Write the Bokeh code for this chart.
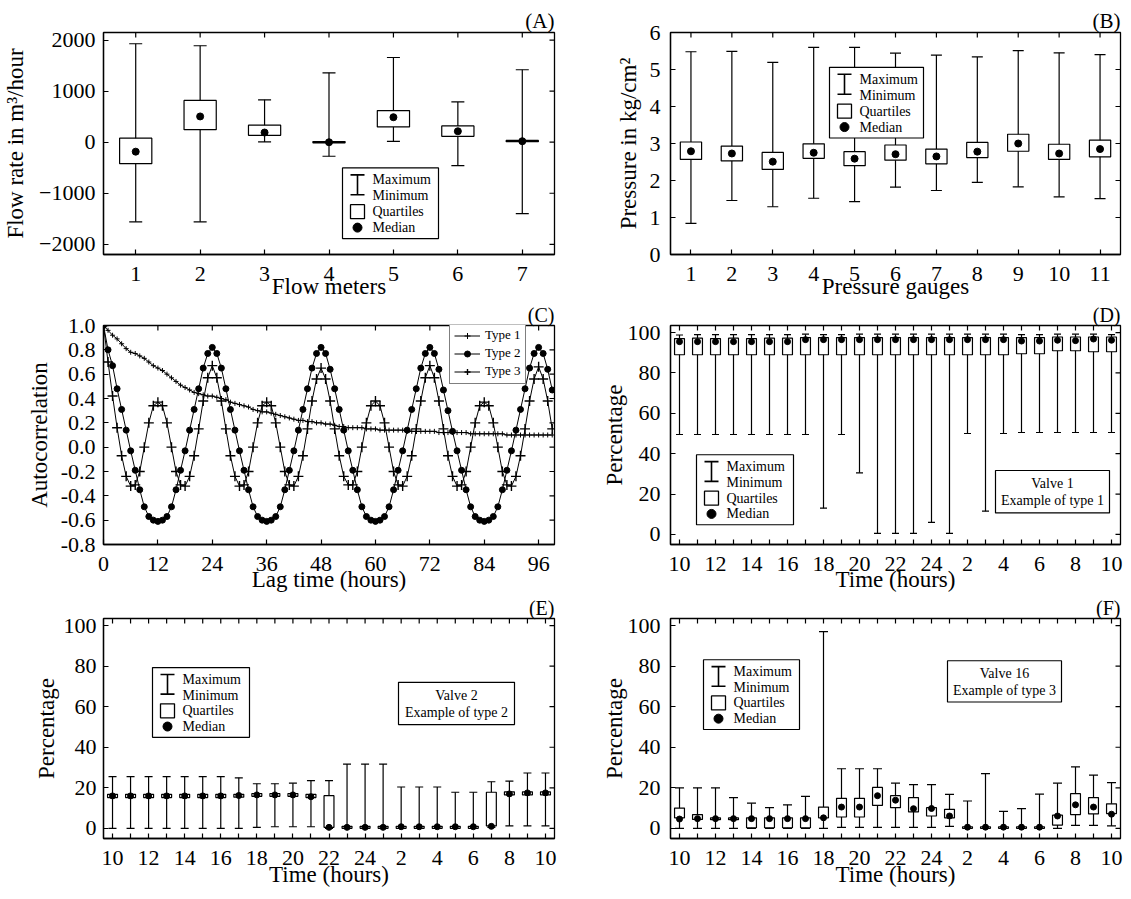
import math
from bokeh.plotting import figure
from bokeh.layouts import column, row
from bokeh.models import (ColumnDataSource, Whisker, TeeHead, FixedTicker,
                          NumeralTickFormatter, CustomJSTickFormatter, Legend, LegendItem)
from bokeh.core.properties import value
from bokeh.embed import file_html
from bokeh.resources import INLINE

FONT = "Liberation Serif"

# ---------------- data: panel A (flow meters)
flow_meters = [1, 2, 3, 4, 5, 6, 7]
flow_max = [1930, 1890, 830, 1360, 1660, 790, 1420]
flow_q3 = [80, 820, 335, 12, 620, 320, 35]
flow_med = [-185, 505, 190, 0, 490, 215, 20]
flow_q1 = [-420, 245, 135, -12, 300, 115, 10]
flow_min = [-1560, -1560, 5, -275, 15, -460, -1400]
flow_ticks = [-2000, -1000, 0, 1000, 2000]

# ---------------- data: panel B (pressure gauges)
gauges = [1, 2, 3, 4, 5, 6, 7, 8, 9, 10, 11]
pres_max = [5.48, 5.49, 5.19, 5.60, 5.60, 5.44, 5.39, 5.34, 5.51, 5.45, 5.40]
pres_q3 = [3.04, 2.93, 2.76, 2.99, 2.78, 2.96, 2.85, 3.03, 3.25, 2.98, 3.09]
pres_med = [2.79, 2.73, 2.51, 2.75, 2.59, 2.71, 2.65, 2.78, 3.00, 2.73, 2.85]
pres_q1 = [2.57, 2.53, 2.30, 2.60, 2.40, 2.55, 2.45, 2.62, 2.79, 2.57, 2.64]
pres_min = [0.84, 1.46, 1.29, 1.52, 1.43, 1.82, 1.73, 1.95, 1.83, 1.56, 1.51]
pres_ticks = [0, 1, 2, 3, 4, 5, 6]

# ---------------- data: panel C (autocorrelation, hourly lags)
lag_hours = list(range(100))
type1 = [1.00, 0.96, 0.92, 0.89, 0.85, 0.81, 0.78, 0.77, 0.75, 0.73,
         0.70, 0.67, 0.65, 0.63, 0.60, 0.57, 0.54, 0.51, 0.49, 0.47,
         0.45, 0.44, 0.43, 0.42, 0.42, 0.41, 0.40, 0.39, 0.37, 0.36,
         0.35, 0.34, 0.33, 0.31, 0.30, 0.29, 0.29, 0.28, 0.27, 0.26,
         0.25, 0.24, 0.23, 0.22, 0.22, 0.21, 0.21, 0.20, 0.20, 0.19,
         0.19, 0.18, 0.17, 0.17, 0.16, 0.16, 0.16, 0.16, 0.15, 0.15,
         0.15, 0.14, 0.14, 0.14, 0.14, 0.14, 0.14, 0.13, 0.13, 0.13,
         0.13, 0.13, 0.13, 0.13, 0.12, 0.12, 0.12, 0.12, 0.12, 0.12,
         0.12, 0.11, 0.11, 0.11, 0.11, 0.11, 0.11, 0.11, 0.11, 0.10,
         0.10, 0.10, 0.10, 0.10, 0.10, 0.10, 0.10, 0.10, 0.10, 0.10]
type2 = [1.00, 0.80, 0.67, 0.48, 0.31, 0.14, -0.03, -0.19, -0.35, -0.49, -0.57, -0.60,
         -0.61, -0.60, -0.57, -0.49, -0.35, -0.19, -0.03, 0.14, 0.31, 0.48, 0.65, 0.77,
         0.82, 0.77, 0.65, 0.48, 0.31, 0.14, -0.03, -0.19, -0.35, -0.49, -0.57, -0.60,
         -0.61, -0.60, -0.57, -0.49, -0.35, -0.19, -0.03, 0.14, 0.31, 0.48, 0.65, 0.77,
         0.82, 0.77, 0.64, 0.48, 0.31, 0.14, -0.03, -0.19, -0.35, -0.49, -0.57, -0.60,
         -0.61, -0.60, -0.57, -0.49, -0.35, -0.19, -0.03, 0.14, 0.31, 0.48, 0.65, 0.77,
         0.82, 0.77, 0.64, 0.47, 0.30, 0.13, -0.03, -0.19, -0.35, -0.49, -0.57, -0.60,
         -0.61, -0.60, -0.57, -0.49, -0.35, -0.19, -0.03, 0.14, 0.31, 0.48, 0.65, 0.77,
         0.82, 0.77, 0.64, 0.47]
type3 = [1.00, 0.70, 0.42, 0.16, -0.07, -0.24, -0.32, -0.31, -0.20, 0.00, 0.20, 0.34,
         0.37, 0.34, 0.20, 0.00, -0.20, -0.31, -0.32, -0.24, -0.07, 0.15, 0.38, 0.57,
         0.67, 0.57, 0.38, 0.15, -0.07, -0.24, -0.32, -0.31, -0.20, 0.00, 0.20, 0.34,
         0.37, 0.34, 0.20, 0.00, -0.20, -0.31, -0.32, -0.24, -0.07, 0.15, 0.38, 0.56,
         0.65, 0.56, 0.38, 0.15, -0.07, -0.24, -0.31, -0.31, -0.20, 0.00, 0.20, 0.34,
         0.38, 0.34, 0.20, 0.00, -0.20, -0.31, -0.32, -0.24, -0.07, 0.15, 0.38, 0.57,
         0.67, 0.57, 0.38, 0.15, -0.07, -0.24, -0.32, -0.31, -0.20, 0.00, 0.20, 0.34,
         0.37, 0.34, 0.20, 0.00, -0.20, -0.31, -0.32, -0.24, -0.07, 0.15, 0.38, 0.56,
         0.66, 0.56, 0.38, 0.15]
lag_ticks = [0, 12, 24, 36, 48, 60, 72, 84, 96]
acf_ticks = [-0.8, -0.6, -0.4, -0.2, 0.0, 0.2, 0.4, 0.6, 0.8, 1.0]

# ---------------- data: hourly valve opening panels D, E, F
hours = [10, 11, 12, 13, 14, 15, 16, 17, 18, 19, 20, 21, 22, 23, 24,
         1, 2, 3, 4, 5, 6, 7, 8, 9, 10]
pct_ticks = [0, 20, 40, 60, 80, 100]

v1_max = [98.8, 99.0, 99.0, 99.0, 99.0, 99.0, 99.0, 99.2, 99.0, 99.0, 99.2, 99.2, 99.2,
          99.2, 99.2, 99.2, 99.2, 99.2, 99.2, 99.0, 99.0, 99.2, 99.2, 99.2, 99.0]
v1_q3 = [97.0, 97.2, 97.0, 97.2, 97.0, 97.2, 97.2, 97.5, 97.5, 97.5, 97.5, 97.5, 97.5,
         97.5, 97.5, 97.5, 97.5, 97.5, 97.5, 97.5, 97.5, 97.8, 97.8, 97.8, 97.8]
v1_med = [95.5, 95.5, 95.5, 95.5, 95.5, 95.5, 95.5, 96.5, 96.5, 96.5, 96.5, 96.5, 96.5,
          96.5, 96.5, 96.5, 96.5, 96.5, 96.5, 95.8, 95.8, 96.2, 96.0, 96.8, 96.2]
v1_q1 = [89.0, 89.0, 89.0, 89.0, 89.0, 89.0, 89.0, 89.0, 89.0, 89.0, 89.0, 89.0, 89.0,
         89.0, 89.0, 89.0, 89.0, 89.0, 89.0, 89.5, 89.5, 91.0, 91.0, 90.5, 90.5]
v1_min = [49.5, 49.5, 49.5, 49.5, 49.5, 49.5, 49.5, 49.5, 13.0, 49.5, 30.5, 0.5, 0.5,
          0.5, 6.0, 0.5, 50.0, 11.5, 50.0, 50.5, 50.5, 50.5, 50.5, 50.5, 50.5]

v2_max = [25.5, 25.5, 25.5, 25.5, 25.5, 25.5, 25.5, 24.9, 22.0, 22.0, 22.3, 23.5, 23.5,
          31.7, 31.7, 31.7, 20.4, 20.4, 20.4, 17.8, 17.8, 23.0, 23.3, 27.3, 27.3]
v2_q3 = [16.8, 16.8, 16.8, 16.8, 16.8, 16.8, 16.8, 16.8, 17.2, 17.2, 17.2, 16.8, 16.1,
         1.0, 1.0, 1.0, 1.0, 1.0, 1.0, 1.0, 1.0, 17.8, 18.0, 18.0, 18.0]
v2_med = [16.0, 16.0, 16.0, 16.0, 16.0, 16.0, 16.0, 16.2, 16.5, 16.5, 16.5, 15.6, 0.5,
          0.5, 0.5, 0.5, 0.8, 0.8, 0.8, 0.8, 0.8, 1.0, 17.0, 17.5, 17.5]
v2_q1 = [15.2, 15.2, 15.2, 15.2, 15.2, 15.2, 15.2, 15.4, 15.8, 15.8, 15.8, 15.2, 0.5,
         0.0, 0.0, 0.0, 0.0, 0.0, 0.0, 0.0, 0.0, 1.2, 16.5, 16.5, 16.5]
v2_min = [0.0, 0.0, 0.0, 0.0, 0.0, 0.0, 0.0, 0.0, 0.5, 0.8, 0.8, 0.8, 0.0,
          0.0, 0.0, 0.0, 0.0, 0.0, 0.0, 0.0, 0.0, 0.5, 1.2, 1.2, 1.2]

v16_max = [20.0, 20.0, 20.0, 15.2, 12.4, 10.2, 11.6, 15.8, 97.0, 29.4, 29.4, 29.4, 22.3,
           21.6, 21.6, 16.8, 13.5, 27.0, 8.4, 9.7, 16.9, 22.3, 30.3, 26.3, 22.6]
v16_q3 = [10.0, 6.8, 5.2, 5.2, 5.2, 5.2, 5.2, 5.2, 10.5, 14.8, 14.8, 20.2, 16.1,
          15.2, 10.2, 9.4, 0.8, 0.8, 0.8, 0.8, 0.8, 6.5, 17.1, 15.2, 12.1]
v16_med = [4.6, 4.8, 4.8, 4.8, 4.8, 4.8, 4.8, 4.8, 5.2, 10.5, 10.5, 16.1, 13.9,
           9.7, 9.8, 6.1, 0.6, 0.6, 0.6, 0.6, 0.6, 6.1, 11.6, 10.5, 7.0]
v16_q1 = [5.2, 4.4, 4.3, 4.3, 0.3, 0.3, 0.3, 0.3, 5.2, 5.6, 5.6, 11.3, 10.2,
          8.1, 6.1, 5.2, 0.0, 0.0, 0.0, 0.0, 0.0, 1.6, 6.8, 7.1, 7.3]
v16_min = [0.0, 0.0, 0.0, 0.0, 0.0, 0.0, 0.0, 0.0, 0.0, 0.5, 0.5, 0.5, 0.5,
           0.5, 0.5, 1.0, 0.0, 0.0, 0.0, 0.0, 0.0, 0.0, 1.5, 1.5, 1.2]

# ---------------- layout constants (pixels)
LEFT = dict(bl=103, br=9, fw=451)
RIGHT = dict(bl=107, br=6, fw=450)
ROWS = [dict(bt=32, fh=223, bb=46, xs=12, xl=-10, tfs="21px"),
        dict(bt=23, fh=222, bb=48, xs=12, xl=-7, tfs="20px"),
        dict(bt=22, fh=224, bb=49, xs=12, xl=-6, tfs="20px")]
TICK_LEN = 5


def style_axis(ax, label, tick_standoff, label_standoff):
    ax.axis_label = label
    ax.axis_label_text_font = FONT
    ax.axis_label_text_font_size = "23px"
    ax.axis_label_text_font_style = "normal"
    ax.axis_label_text_color = "black"
    ax.axis_label_standoff = label_standoff
    ax.major_label_text_font = FONT
    ax.major_label_text_font_size = "22px"
    ax.major_label_text_font_style = "normal"
    ax.major_label_text_color = "black"
    ax.major_label_standoff = tick_standoff
    ax.major_tick_in = TICK_LEN
    ax.major_tick_out = 0
    ax.minor_tick_in = TICK_LEN
    ax.minor_tick_out = 0
    ax.axis_line_color = "black"
    ax.axis_line_width = 1.3
    ax.major_tick_line_color = "black"
    ax.major_tick_line_width = 1.2
    ax.minor_tick_line_color = "black"
    ax.minor_tick_line_width = 1.2


def pixel_mapper(xr, yr, fw, fh, lx=0, ly=0):
    sx = (xr[1] - xr[0]) / fw
    sy = (yr[1] - yr[0]) / fh
    return (lambda px: xr[0] + (lx + px) * sx), (lambda py: yr[1] - (ly + py) * sy)


def mirror_ticks(p, xr, yr, fw, fh, xticks, yticks):
    # inward tick marks on the top and right frame edges
    X, Y = pixel_mapper(xr, yr, fw, fh)
    p.scatter(x=xticks, y=[Y(TICK_LEN / 2)] * len(xticks), marker="dash", angle=math.pi / 2,
              size=TICK_LEN, line_color="black", line_width=1.2)
    p.scatter(x=[X(fw - TICK_LEN / 2)] * len(yticks), y=yticks, marker="dash",
              size=TICK_LEN, line_color="black", line_width=1.2)


def make_fig(col, rw, xr, yr, title, xticks, yticks, xlabel, ylabel,
             y_tick_standoff=8, y_label_standoff=6, top_ticks=None):
    p = figure(x_range=xr, y_range=yr,
               width=col["bl"] + col["fw"] + col["br"], height=rw["bt"] + rw["fh"] + rw["bb"],
               min_border_left=col["bl"], min_border_right=col["br"],
               min_border_top=rw["bt"], min_border_bottom=rw["bb"],
               output_backend="svg", toolbar_location=None, title=title)
    p.grid.visible = False
    p.outline_line_color = "black"
    p.outline_line_width = 1.3
    p.background_fill_color = "white"
    p.border_fill_color = "white"
    p.title.align = "right"
    p.title.text_font = FONT
    p.title.text_font_size = rw["tfs"]
    p.title.text_font_style = "normal"
    p.title.text_color = "black"
    p.title.standoff = 0
    p.title.offset = 0
    p.xaxis.ticker = FixedTicker(ticks=xticks)
    p.yaxis.ticker = FixedTicker(ticks=yticks)
    style_axis(p.xaxis[0], xlabel, rw["xs"], rw["xl"])
    style_axis(p.yaxis[0], ylabel, y_tick_standoff, y_label_standoff)
    mirror_ticks(p, xr, yr, col["fw"], rw["fh"], top_ticks or xticks, yticks)
    return p


def add_boxes(p, xs, mx, q3, med, q1, mn, box_w, cap_px, dot_px):
    src = ColumnDataSource(dict(x=xs, mx=mx, q3=q3, med=med, q1=q1, mn=mn))
    w = Whisker(source=src, base="x", upper="mx", lower="mn", dimension="height",
                line_color="black", line_width=1.2,
                upper_head=TeeHead(size=cap_px, line_color="black", line_width=1.2),
                lower_head=TeeHead(size=cap_px, line_color="black", line_width=1.2))
    p.add_layout(w)
    p.vbar(x="x", width=box_w, bottom="q1", top="q3", source=src,
           fill_color="white", line_color="black", line_width=1.2)
    p.scatter(x="x", y="med", source=src, size=dot_px, marker="circle",
              fill_color="black", line_color="black")


def stat_legend(p, xr, yr, fw, fh, lx, ly, w=96, h=71):
    X, Y = pixel_mapper(xr, yr, fw, fh, lx, ly)
    p.quad(left=[X(0)], right=[X(w)], top=[Y(0)], bottom=[Y(h)],
           fill_color="white", line_color="black", line_width=1.2)
    p.segment(x0=[X(15), X(8), X(8)], y0=[Y(7), Y(7), Y(27)],
              x1=[X(15), X(22), X(22)], y1=[Y(27), Y(7), Y(27)],
              line_color="black", line_width=1.6)
    p.scatter(x=[X(15)], y=[Y(44)], marker="square", size=14,
              fill_color="white", line_color="black", line_width=1.3)
    p.scatter(x=[X(15)], y=[Y(60)], marker="circle", size=9,
              fill_color="black", line_color="black")
    p.text(x=[X(30)] * 4, y=[Y(12), Y(28), Y(44), Y(60)],
           text=["Maximum", "Minimum", "Quartiles", "Median"],
           text_font=value(FONT), text_font_size="14px", text_baseline="middle",
           text_align="left", text_color="black")


def note_box(p, xr, yr, fw, fh, lx, ly, w, h, lines):
    X, Y = pixel_mapper(xr, yr, fw, fh, lx, ly)
    p.quad(left=[X(0)], right=[X(w)], top=[Y(0)], bottom=[Y(h)],
           fill_color="white", line_color="black", line_width=1.2)
    p.text(x=[X(w / 2)] * 2, y=[Y(h / 2 - 8), Y(h / 2 + 9)], text=lines,
           text_font=value(FONT), text_font_size="14px", text_baseline="middle",
           text_align="center", text_color="black")


slots = list(range(len(hours)))
even_slots = slots[::2]
odd_slots = slots[1::2]
slot_range = (-0.5, 24.5)
pct_range = (-5, 103.5)


def hour_axis(p):
    ax = p.xaxis[0]
    ax.ticker = FixedTicker(ticks=even_slots, minor_ticks=odd_slots)
    ax.formatter = CustomJSTickFormatter(
        args=dict(labels=[str(h) for h in hours]),
        code="const i = Math.round(tick); return (i >= 0 && i < labels.length) ? labels[i] : '';")


# ---------------- Panel A
xrA, yrA = (0.5, 7.5), (-2200, 2150)
pA = make_fig(LEFT, ROWS[0], xrA, yrA, "(A)", flow_meters, flow_ticks,
              "Flow meters", "Flow rate in m³/hour", 8, 8)
add_boxes(pA, flow_meters, flow_max, flow_q3, flow_med, flow_q1, flow_min, 0.5, 13, 7)
stat_legend(pA, xrA, yrA, LEFT["fw"], ROWS[0]["fh"], 239, 136)

# ---------------- Panel B
xrB, yrB = (0.5, 11.5), (0, 6)
pB = make_fig(RIGHT, ROWS[0], xrB, yrB, "(B)", gauges, pres_ticks,
              "Pressure gauges", "Pressure in kg/cm²", 10, 6)
add_boxes(pB, gauges, pres_max, pres_q3, pres_med, pres_q1, pres_min, 0.52, 11, 7)
stat_legend(pB, xrB, yrB, RIGHT["fw"], ROWS[0]["fh"], 159, 35, w=94)

# ---------------- Panel C
xrC, yrC = (0, 99.5), (-0.8, 1.0)
pC = make_fig(LEFT, ROWS[1], xrC, yrC, "(C)", lag_ticks, acf_ticks,
              "Lag time (hours)", "Autocorrelation", 8, 6)
pC.yaxis[0].formatter = NumeralTickFormatter(format="0.0")
l1 = pC.line(lag_hours, type1, line_color="black", line_width=1)
s1 = pC.scatter(lag_hours, type1, marker="cross", size=5, line_color="black", line_width=1)
l2 = pC.line(lag_hours, type2, line_color="black", line_width=1)
s2 = pC.scatter(lag_hours, type2, marker="circle", size=6, fill_color="black", line_color="black")
l3 = pC.line(lag_hours, type3, line_color="black", line_width=1)
s3 = pC.scatter(lag_hours, type3, marker="cross", size=10, line_color="black", line_width=1.4)
legC = Legend(items=[LegendItem(label="Type 1", renderers=[l1, s1]),
                     LegendItem(label="Type 2", renderers=[l2, s2]),
                     LegendItem(label="Type 3", renderers=[l3, s3])],
              location=(346, 160), margin=0, padding=4, spacing=2,
              glyph_width=26, glyph_height=15, label_height=15, label_standoff=5,
              label_text_font=FONT, label_text_font_size="13px", label_text_color="black",
              border_line_color="black", border_line_width=1.2,
              background_fill_color="white", background_fill_alpha=1)
pC.add_layout(legC)

# ---------------- Panel D
pD = make_fig(RIGHT, ROWS[1], slot_range, pct_range, "(D)", even_slots, pct_ticks,
              "Time (hours)", "Percentage", 10, -2, top_ticks=slots)
hour_axis(pD)
add_boxes(pD, slots, v1_max, v1_q3, v1_med, v1_q1, v1_min, 0.55, 7, 6)
stat_legend(pD, slot_range, pct_range, RIGHT["fw"], ROWS[1]["fh"], 26, 131, w=97)
note_box(pD, slot_range, pct_range, RIGHT["fw"], ROWS[1]["fh"], 325, 147, 114, 43,
         ["Valve 1", "Example of type 1"])

# ---------------- Panel E
pE = make_fig(LEFT, ROWS[2], slot_range, pct_range, "(E)", even_slots, pct_ticks,
              "Time (hours)", "Percentage", 7, 2, top_ticks=slots)
hour_axis(pE)
add_boxes(pE, slots, v2_max, v2_q3, v2_med, v2_q1, v2_min, 0.55, 8, 6)
stat_legend(pE, slot_range, pct_range, LEFT["fw"], ROWS[2]["fh"], 49, 50, w=97)
note_box(pE, slot_range, pct_range, LEFT["fw"], ROWS[2]["fh"], 295, 65, 116, 43,
         ["Valve 2", "Example of type 2"])

# ---------------- Panel F
pF = make_fig(RIGHT, ROWS[2], slot_range, pct_range, "(F)", even_slots, pct_ticks,
              "Time (hours)", "Percentage", 10, -2, top_ticks=slots)
hour_axis(pF)
add_boxes(pF, slots, v16_max, v16_q3, v16_med, v16_q1, v16_min, 0.55, 9, 6)
stat_legend(pF, slot_range, pct_range, RIGHT["fw"], ROWS[2]["fh"], 33, 42, w=96)
note_box(pF, slot_range, pct_range, RIGHT["fw"], ROWS[2]["fh"], 277, 43, 114, 42,
         ["Valve 16", "Example of type 3"])

layout = column(row(pA, pB), row(pC, pD), row(pE, pF))
open("out.html", "w").write(file_html(layout, INLINE))
